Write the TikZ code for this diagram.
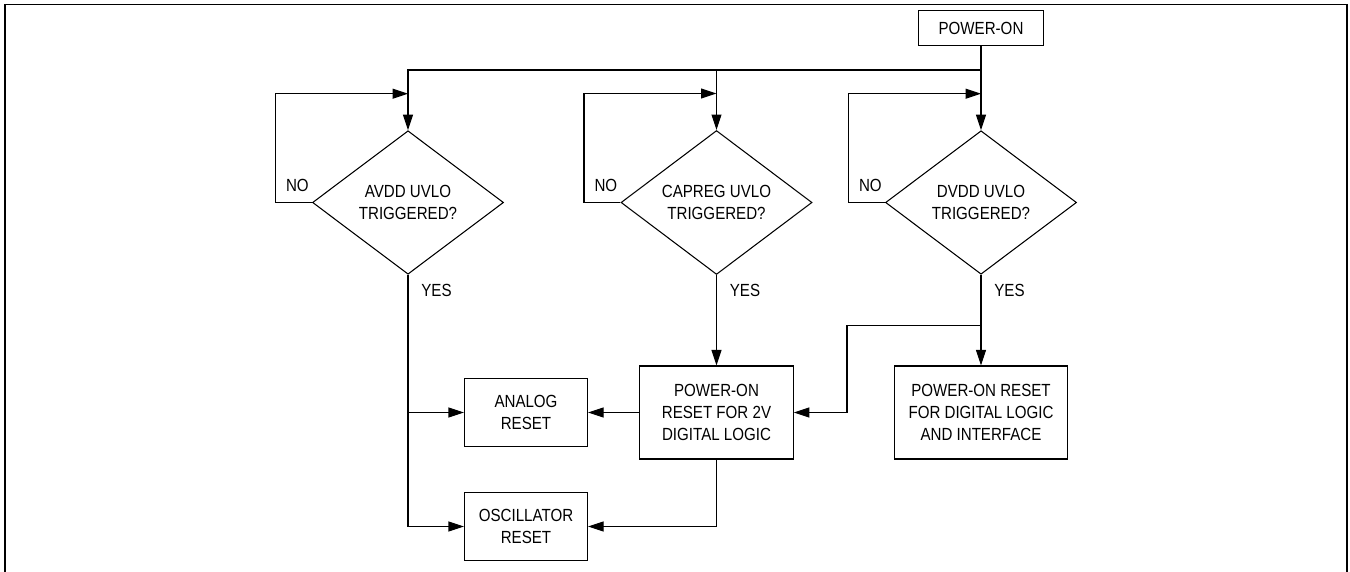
\documentclass[tikz,border=0pt]{standalone}
\usepackage{fontspec}
\setmainfont{Liberation Sans}[FakeStretch=0.86]
\usetikzlibrary{shapes.geometric, arrows.meta, positioning, calc}

\begin{document}
\begin{tikzpicture}[
    txt/.style={font=\fontsize{10}{12.7}\selectfont, align=center},
    box/.style={txt, draw, line width=0.6pt, inner sep=0pt},
    decision/.style={txt, diamond, draw, line width=0.6pt, inner sep=0pt,
                     minimum width=3.82cm, minimum height=2.87cm},
    no/.style={txt, anchor=south west, inner sep=0pt, xshift=0.2cm, yshift=0.2cm},
    yes/.style={txt, anchor=north west, inner sep=0pt, xshift=0.26cm, yshift=-0.18cm},
    arrow/.style={-{Triangle[length=3.1mm,width=2mm]}, line width=0.6pt},
    frame/.style={line width=0.8pt}
]
    \useasboundingbox (0,0) rectangle (27,-11.44);
    \draw[frame] (0.1,-11.44) -- (0.1,-0.09) -- (26.94,-0.09) -- (26.94,-11.44);

    \node[box, minimum width=2.51cm, minimum height=0.69cm] (pon) at (19.62,-0.56) {POWER-ON};

    \node[decision] (avdd) at (8.16,-4.05) {AVDD UVLO\\TRIGGERED?};
    \node[decision] (capreg) at (14.33,-4.05) {CAPREG UVLO\\TRIGGERED?};
    \node[decision] (dvdd) at (19.62,-4.05) {DVDD UVLO\\TRIGGERED?};

    \node[box, minimum width=2.46cm, minimum height=1.37cm] (ana) at (10.52,-8.25) {ANALOG\\RESET};
    \node[box, minimum width=2.46cm, minimum height=1.37cm] (osc) at (10.52,-10.53) {OSCILLATOR\\RESET};
    \node[box, minimum width=3.07cm, minimum height=1.86cm] (por2) at (14.33,-8.25) {POWER-ON\\RESET FOR 2V\\DIGITAL LOGIC};
    \node[box, minimum width=3.45cm, minimum height=1.86cm] (pordig) at (19.62,-8.25) {POWER-ON RESET\\FOR DIGITAL LOGIC\\AND INTERFACE};

    % power-on bus
    \coordinate (bus) at (19.62,-1.4);
    \draw[arrow] (pon.south) -- (dvdd.north);
    \draw[arrow] (bus) -| (avdd.north);
    \draw[arrow] (bus -| capreg.north) -- (capreg.north);

    % NO loops
    \draw[arrow] (avdd.west) -- ++(-0.73,0) node[no] {NO} |- ($(avdd.north)+(0,0.73)$);
    \draw[arrow] (capreg.west) -- ++(-0.73,0) node[no] {NO} |- ($(capreg.north)+(0,0.73)$);
    \draw[arrow] (dvdd.west) -- ++(-0.73,0) node[no] {NO} |- ($(dvdd.north)+(0,0.73)$);

    % YES branches
    \node[yes] (yesa) at (avdd.south) {YES};
    \node[yes] (yesc) at (capreg.south) {YES};
    \node[yes] (yesd) at (dvdd.south) {YES};

    \draw[arrow] (avdd.south) |- (osc.west);
    \draw[arrow] (avdd.south |- ana.west) -- (ana.west);
    \draw[arrow] (capreg.south) -- (por2.north);
    \draw[arrow] (dvdd.south) -- (pordig.north);
    \coordinate (tap) at ($(dvdd.south)+(0,-1.02)$);
    \draw[arrow] (tap) -- ++(-2.68,0) |- (por2.east);
    \draw[arrow] (por2.west) -- (ana.east);
    \draw[arrow] (por2.south) |- (osc.east);
\end{tikzpicture}
\end{document}
